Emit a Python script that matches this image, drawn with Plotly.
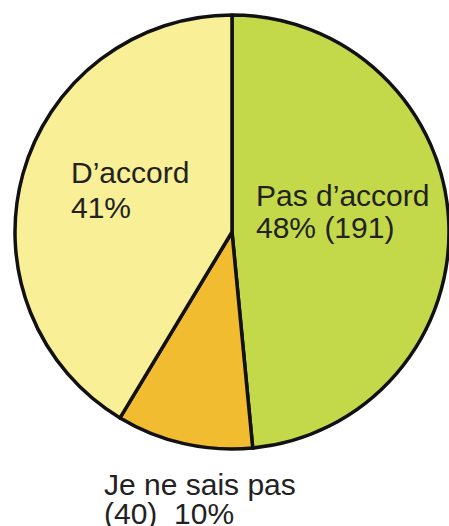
import plotly.graph_objects as go

# Data
categories = ["Pas d\u2019accord", "Je ne sais pas", "D\u2019accord"]
counts = [191, 40, 163]
percent_labels = ["48%", "10%", "41%"]
colors = ["#c3d94a", "#f2bc31", "#f9ef97"]

W, H = 449, 526
cx, cy, r = 232, 232, 217

fig = go.Figure(go.Pie(
    labels=categories,
    values=counts,
    sort=False,
    direction="clockwise",
    rotation=0,
    textinfo="none",
    hoverinfo="label+value+percent",
    marker=dict(colors=colors, line=dict(color="#111111", width=3.5)),
    domain=dict(x=[(cx - r) / W, (cx + r) / W], y=[(H - cy - r) / H, (H - cy + r) / H]),
    showlegend=False,
))

font = dict(family="Liberation Sans, Arial, sans-serif", size=30, color="#222222")
lines = [
    (categories[0], 254, 177.5),
    (f"{percent_labels[0]} ({counts[0]})", 254, 209),
    (categories[1], 102, 465.5),
    (f"({counts[1]})  {percent_labels[1]}", 102, 494.5),
    (categories[2], 69, 154),
    (percent_labels[2], 69, 189),
]
for t, x, y in lines:
    fig.add_annotation(
        text=t, x=x / W, y=1 - y / H, xref="paper", yref="paper",
        xanchor="left", yanchor="top", align="left", showarrow=False, font=font,
    )

fig.update_layout(
    width=W, height=H,
    margin=dict(l=0, r=0, t=0, b=0),
    paper_bgcolor="white", plot_bgcolor="white",
)
fig.write_html("out.html", config={"displayModeBar": False},
               post_script="document.body.style.margin='0';")
